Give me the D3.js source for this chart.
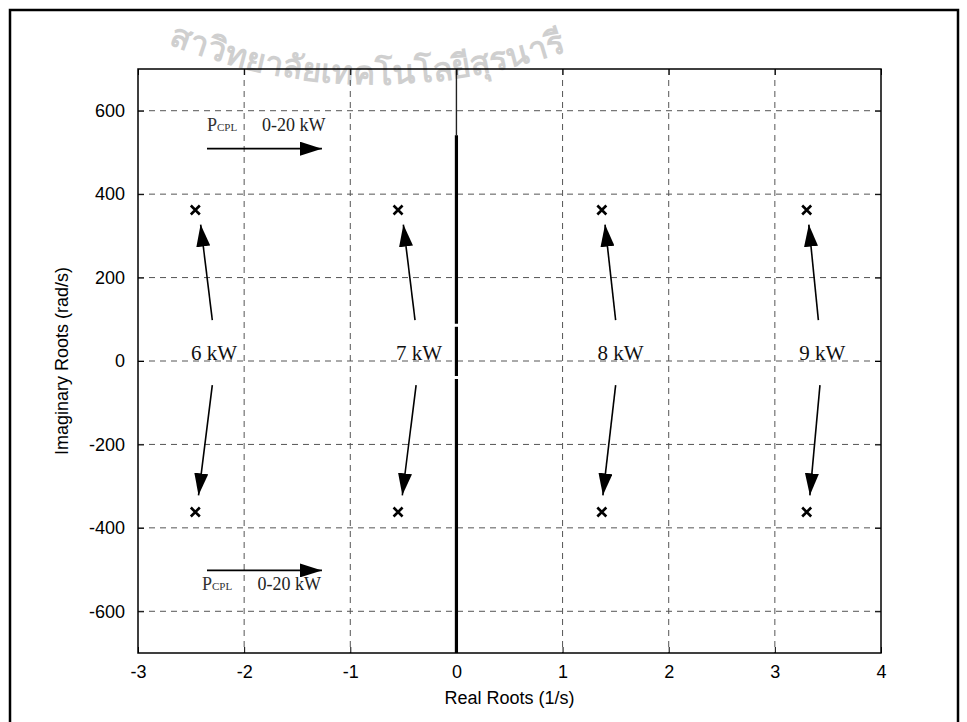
<!DOCTYPE html>
<html>
<head>
<meta charset="utf-8">
<script src="https://cdn.jsdelivr.net/npm/d3@7"></script>
<style>
  body { margin: 0; background: #fff; }
</style>
</head>
<body>
<script>
// chart data
const xTicks = [-3, -2, -1, 0, 1, 2, 3, 4]
const yTicks = [-600, -400, -200, 0, 200, 400, 600]

// pole positions for each load level (real part), imaginary part +/-
const loads = ["6 kW", "7 kW", "8 kW", "9 kW"]
const poleRe = [-2.46, -0.55, 1.37, 3.30]
const poleIm = [362, -362]

// labels and arrows near the poles
const labelX = [-2.50, -0.57, 1.33, 3.23]
const labelY = 2
const arrowUpFromX = [-2.30, -0.39, 1.50, 3.41]
const arrowUpToX = [-2.41, -0.50, 1.40, 3.32]
const arrowDownFromX = [-2.30, -0.38, 1.50, 3.425]
const arrowDownToX = [-2.43, -0.51, 1.38, 3.33]
const arrowUpY = [98, 327]
const arrowDownY = [-58, -322]

// thick line on the imaginary axis (segments in rad/s)
const zeroThick = [[-700, -43], [-36, 82], [89, 541]]
const zeroThin = [[541, 700]]

// P_CPL sweep annotations
const sweepY = [509, -502]
const sweepFromX = -2.35
const sweepToX = -1.267
const sweepTextY = [551, -550]
const sweepPX = [-2.35, -2.397]
const sweepRangeX = [-1.832, -1.874]

const W = 967, H = 722
const plot = {left: 138, right: 881, top: 69, bottom: 653}

let svg = d3.select("body")
  .append("svg")
  .attr("width", W)
  .attr("height", H)

// arrow head marker
svg.append("defs").append("marker")
  .attr("id", "head")
  .attr("viewBox", "0 0 22 14")
  .attr("refX", 22)
  .attr("refY", 7)
  .attr("markerWidth", 22)
  .attr("markerHeight", 14)
  .attr("markerUnits", "userSpaceOnUse")
  .attr("orient", "auto")
  .append("path")
  .attr("d", "M0,0 L22,7 L0,14 Z")
  .attr("fill", "#000")

// outer frame
svg.append("rect")
  .attr("x", 10).attr("y", 10)
  .attr("width", 948).attr("height", 730)
  .attr("fill", "none")
  .attr("stroke", "#000")
  .attr("stroke-width", 2.5)

const x = d3.scaleLinear().domain([-3, 4]).range([plot.left, plot.right])
const y = d3.scaleLinear().domain([-700, 700]).range([plot.bottom, plot.top])

// watermark (faded)
const wm = svg.append("g").attr("opacity", 0.25)
wm.append("path")
  .attr("id", "wmarc")
  .attr("d", "M168,44 Q385,130 610,34")
  .attr("fill", "none")
wm.append("text")
  .style("font-family", "'Noto Sans', 'DejaVu Sans', sans-serif")
  .style("font-size", "33px")
  .style("font-weight", "bold")
  .attr("fill", "#444")
  .append("textPath")
  .attr("href", "#wmarc")
  .text("สาวิทยาลัยเทคโนโลยีสุรนารี")

// grid
const grid = svg.append("g")
  .attr("stroke", "#555")
  .attr("stroke-width", 1)
  .attr("stroke-dasharray", "6,5")
grid.selectAll(".gx")
  .data(xTicks.filter(d => d > -3 && d < 4 && d !== 0))
  .enter().append("line")
  .attr("x1", d => x(d)).attr("x2", d => x(d))
  .attr("y1", plot.top).attr("y2", plot.bottom)
grid.selectAll(".gy")
  .data(yTicks)
  .enter().append("line")
  .attr("x1", plot.left).attr("x2", plot.right)
  .attr("y1", d => y(d)).attr("y2", d => y(d))

// imaginary axis line
svg.selectAll(".zthin")
  .data(zeroThin)
  .enter().append("line")
  .attr("x1", x(0)).attr("x2", x(0))
  .attr("y1", d => y(d[0])).attr("y2", d => y(d[1]))
  .attr("stroke", "#222")
  .attr("stroke-width", 1.4)
svg.selectAll(".zthick")
  .data(zeroThick)
  .enter().append("line")
  .attr("x1", x(0)).attr("x2", x(0))
  .attr("y1", d => y(d[0])).attr("y2", d => y(d[1]))
  .attr("stroke", "#000")
  .attr("stroke-width", 3.2)

// axes with inward ticks
const axisFont = "'Liberation Sans', Arial, sans-serif"
const fmt = d => String(d)
function styleAxis(g) {
  g.select(".domain").remove()
  g.selectAll(".tick line").attr("stroke", "#000").attr("stroke-width", 1)
  g.selectAll(".tick text")
    .style("font-family", axisFont)
    .style("font-size", "18px")
    .attr("fill", "#000")
}
svg.append("g")
  .attr("transform", `translate(0,${plot.bottom})`)
  .call(d3.axisBottom(x).tickValues(xTicks).tickFormat(fmt).tickSizeInner(-6).tickSizeOuter(0).tickPadding(12))
  .call(styleAxis)
svg.append("g")
  .attr("transform", `translate(0,${plot.top})`)
  .call(d3.axisTop(x).tickValues(xTicks).tickFormat("").tickSizeInner(-6).tickSizeOuter(0))
  .call(styleAxis)
svg.append("g")
  .attr("transform", `translate(${plot.left},0)`)
  .call(d3.axisLeft(y).tickValues(yTicks).tickFormat(fmt).tickSizeInner(-6).tickSizeOuter(0).tickPadding(13))
  .call(styleAxis)
svg.append("g")
  .attr("transform", `translate(${plot.right},0)`)
  .call(d3.axisRight(y).tickValues(yTicks).tickFormat("").tickSizeInner(-6).tickSizeOuter(0))
  .call(styleAxis)

// plot box
svg.append("rect")
  .attr("x", plot.left).attr("y", plot.top)
  .attr("width", plot.right - plot.left)
  .attr("height", plot.bottom - plot.top)
  .attr("fill", "none")
  .attr("stroke", "#000")
  .attr("stroke-width", 1.5)

// axis labels
svg.append("text")
  .text("Real Roots (1/s)")
  .attr("x", (plot.left + plot.right) / 2)
  .attr("y", 704)
  .attr("text-anchor", "middle")
  .style("font-family", axisFont)
  .style("font-size", "18px")
svg.append("text")
  .text("Imaginary Roots (rad/s)")
  .attr("transform", `translate(68, ${(plot.top + plot.bottom) / 2}) rotate(-90)`)
  .attr("text-anchor", "middle")
  .style("font-family", axisFont)
  .style("font-size", "18px")

// pole markers
const poles = []
poleRe.forEach(re => poleIm.forEach(im => poles.push({re: re, im: im})))
svg.append("g").selectAll("path")
  .data(poles)
  .enter().append("path")
  .attr("transform", d => `translate(${x(d.re)},${y(d.im)})`)
  .attr("d", "M-4.5,-4.5 L4.5,4.5 M-4.5,4.5 L4.5,-4.5")
  .attr("stroke", "#000")
  .attr("stroke-width", 2.6)

// arrows towards the poles
const arrows = svg.append("g")
loads.forEach((l, i) => {
  arrows.append("line")
    .attr("x1", x(arrowUpFromX[i])).attr("y1", y(arrowUpY[0]))
    .attr("x2", x(arrowUpToX[i])).attr("y2", y(arrowUpY[1]))
    .attr("stroke", "#000").attr("stroke-width", 1.6)
    .attr("marker-end", "url(#head)")
  arrows.append("line")
    .attr("x1", x(arrowDownFromX[i])).attr("y1", y(arrowDownY[0]))
    .attr("x2", x(arrowDownToX[i])).attr("y2", y(arrowDownY[1]))
    .attr("stroke", "#000").attr("stroke-width", 1.6)
    .attr("marker-end", "url(#head)")
})

// load labels
const serif = "'Liberation Serif', 'Times New Roman', serif"
svg.append("g").selectAll("text")
  .data(loads)
  .enter().append("text")
  .text(d => d)
  .attr("x", (d, i) => x(labelX[i]))
  .attr("y", y(labelY))
  .style("font-family", serif)
  .style("font-size", "21px")
  .attr("fill", "#111")

// P_CPL sweep arrows and text
sweepY.forEach((sy, i) => {
  svg.append("line")
    .attr("x1", x(sweepFromX)).attr("y1", y(sy))
    .attr("x2", x(sweepToX)).attr("y2", y(sy))
    .attr("stroke", "#000").attr("stroke-width", 1.6)
    .attr("marker-end", "url(#head)")
  const t = svg.append("text")
    .attr("x", x(sweepPX[i]))
    .attr("y", y(sweepTextY[i]))
    .style("font-family", serif)
    .style("font-size", "18px")
    .attr("fill", "#333")
  t.append("tspan").text("P")
  t.append("tspan").text("CPL").style("font-size", "11px")
  svg.append("text")
    .text("0-20 kW")
    .attr("x", x(sweepRangeX[i]))
    .attr("y", y(sweepTextY[i]))
    .style("font-family", serif)
    .style("font-size", "18px")
    .attr("fill", "#222")
})
</script>
</body>
</html>
